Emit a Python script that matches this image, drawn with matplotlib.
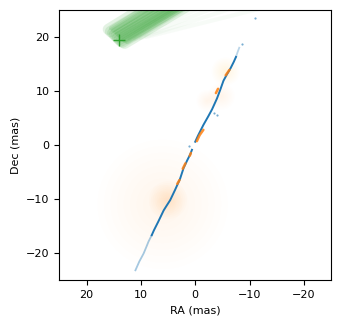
import matplotlib
matplotlib.use("Agg")
import matplotlib.pyplot as plt
from matplotlib.patches import Circle

# ---- data ----
blue_upper_ra = [0.0, -0.5, -1.0, -1.5, -2.4, -3.1, -4.0, -4.6, -5.2, -5.8, -6.5, -7.1, -7.5]
blue_upper_dec = [0.6, 1.7, 2.7, 3.7, 5.3, 6.6, 8.6, 10.2, 11.9, 13.0, 14.2, 15.4, 16.3]
blue_upper_faint_ra = [-7.5, -7.8, -8.1]
blue_upper_faint_dec = [16.3, 17.2, 18.0]
blue_lower_ra = [0.6, 0.9, 1.5, 2.15, 2.8, 3.7, 4.6, 5.3, 5.8, 6.8, 7.6, 8.0]
blue_lower_dec = [-0.9, -1.7, -2.9, -4.3, -6.3, -8.3, -10.2, -11.3, -12.1, -14.2, -15.8, -16.7]
blue_lower_faint_ra = [8.0, 8.6, 9.0, 9.5, 10.3, 11.0]
blue_lower_faint_dec = [-16.7, -17.9, -18.9, -20.1, -21.6, -23.2]
blue_stray_ra = [1.2, -3.4, -4.0, -8.6, -11.0]
blue_stray_dec = [-0.2, 5.9, 5.6, 18.6, 23.5]

orange_seg1_ra = [-0.3, -0.8, -1.5]
orange_seg1_dec = [0.7, 1.8, 2.8]
orange_seg2_ra = [0.8, 1.0]
orange_seg2_dec = [-1.5, -2.0]
orange_seg3_ra = [1.8, 2.3]
orange_seg3_dec = [-3.4, -4.4]
orange_seg4_ra = [2.9, 3.3]
orange_seg4_dec = [-6.5, -7.2]
orange_seg5_ra = [-5.6, -6.3]
orange_seg5_dec = [12.9, 13.9]
orange_seg6_ra = [-3.8, -4.2]
orange_seg6_dec = [9.6, 10.4]

glow_ra = [6.0, 5.0, -5.6, -2.2, -4.8]
glow_dec = [-11.0, -10.2, 13.6, 8.2, 9.0]
glow_radius = [12.0, 3.5, 2.6, 2.0, 2.5]
glow_strength = [0.4, 1.2, 0.9, 0.55, 0.4]

green_ra0 = [16.0, 15.6, 15.2, 14.9, 14.6, 14.3, 14.0, 13.7, 13.4, 13.0]
green_dec0 = [21.4, 21.0, 20.7, 20.4, 20.1, 19.8, 19.5, 19.2, 19.0, 18.8]
green_slope = [0.62, 0.60, 0.60, 0.59, 0.58, 0.58, 0.58, 0.59, 0.60, 0.60]
green_faint_ra0 = [12.0, 11.0, 10.0, 9.0]
green_faint_dec0 = [19.6, 19.6, 19.8, 20.0]
green_faint_slope = [0.45, 0.40, 0.33, 0.25]

plus_ra = [14.0]
plus_dec = [19.5]

xticks = [20, 10, 0, -10, -20]
yticks = [-20, -10, 0, 10, 20]

# ---- figure ----
fig = plt.figure(figsize=(3.41, 3.27), dpi=100)
ax = fig.add_axes([0.174, 0.1437, 0.797, 0.826])

blue = "#1f77b4"
orange = "#ff7f0e"
glowc = "#ffb03a"
green = "#2ca02c"

# orange glows
for x, y, r, s in zip(glow_ra, glow_dec, glow_radius, glow_strength):
    n = 10
    for k in range(n, 0, -1):
        ax.add_patch(Circle((x, y), r * k / n, facecolor=glowc, edgecolor="none",
                            alpha=0.015 * s, zorder=1))

# green streaks
for x0, y0, s in zip(green_ra0, green_dec0, green_slope):
    ax.plot([x0, x0 - 30], [y0, y0 + 30 * s], color=green, lw=8.0, alpha=0.13,
            solid_capstyle="round", zorder=2)
    ax.plot([x0 - 0.5, x0 - 30], [y0 + 0.2, y0 + 30 * s], color=green, lw=3.0, alpha=0.15,
            solid_capstyle="round", zorder=2)
for x0, y0, s in zip(green_faint_ra0, green_faint_dec0, green_faint_slope):
    ax.plot([x0, x0 - 30], [y0, y0 + 30 * s], color=green, lw=3, alpha=0.035,
            solid_capstyle="round", zorder=2)

# blue track
ax.plot(blue_upper_ra, blue_upper_dec, color=blue, lw=1.4, zorder=3)
ax.plot(blue_lower_ra, blue_lower_dec, color=blue, lw=1.4, zorder=3)
ax.plot(blue_upper_faint_ra, blue_upper_faint_dec, color=blue, lw=1.3, alpha=0.3, zorder=3)
ax.plot(blue_lower_faint_ra, blue_lower_faint_dec, color=blue, lw=1.3, alpha=0.4, zorder=3)
ax.scatter(blue_stray_ra, blue_stray_dec, s=2.5, color=blue, alpha=0.6, lw=0, zorder=3)

# orange segments along the track
for sra, sdec in [(orange_seg1_ra, orange_seg1_dec), (orange_seg2_ra, orange_seg2_dec),
                  (orange_seg3_ra, orange_seg3_dec), (orange_seg4_ra, orange_seg4_dec),
                  (orange_seg5_ra, orange_seg5_dec), (orange_seg6_ra, orange_seg6_dec)]:
    ax.plot(sra, sdec, color=orange, lw=1.8, alpha=0.85, solid_capstyle="round", zorder=4)

ax.plot(plus_ra, plus_dec, marker="+", color=green, ms=9, mew=1.0, ls="none", zorder=5)

ax.set_xlim(25, -25)
ax.set_ylim(-25, 25)
ax.set_xticks(xticks)
ax.set_yticks(yticks)
ax.tick_params(labelsize=8, length=3.5)
ax.set_xlabel("RA (mas)", fontsize=8)
ax.set_ylabel("Dec (mas)", fontsize=8)

fig.savefig("out.png", dpi=100)
